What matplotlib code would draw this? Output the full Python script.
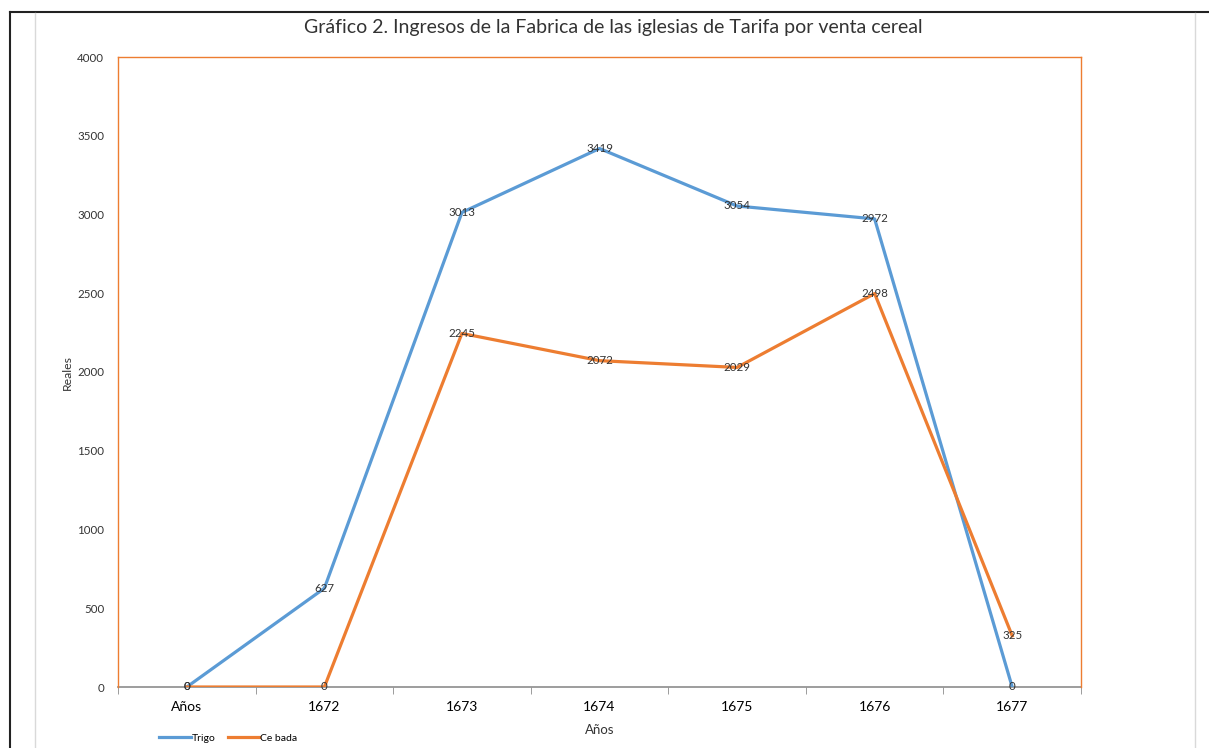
import numpy as np
import matplotlib.pyplot as plt
from matplotlib.lines import Line2D

categorias = ['Años', '1672', '1673', '1674', '1675', '1676', '1677']
trigo = [0, 627, 3013, 3419, 3054, 2972, 0]
cebada = [0, 0, 2245, 2072, 2029, 2498, 325]

plt.rcParams['font.family'] = ['Lato', 'DejaVu Sans']

fig = plt.figure(figsize=(12.09, 7.48), dpi=100)
W, H = 1209, 748
ax = fig.add_axes([118 / W, 1 - 687 / H, (1081 - 118) / W, (687 - 57) / H])

x = np.arange(len(categorias))
azul = '#5B9BD5'
naranja = '#ED7D31'
ax.plot(x, trigo, color=azul, lw=2.3, label='Trigo', solid_joinstyle='round')
ax.plot(x, cebada, color=naranja, lw=2.3, label='Ce bada', solid_joinstyle='round')

for xi, v in zip(x, trigo):
    ax.text(xi, v, str(v), ha='center', va='center', fontsize=8.3, color='#333333')
for xi, v in zip(x, cebada):
    ax.text(xi, v, str(v), ha='center', va='center', fontsize=8.3, color='#333333')

ax.set_xlim(-0.5, len(categorias) - 0.5)
ax.set_ylim(0, 4000)
ax.set_yticks(np.arange(0, 4001, 500))
ax.tick_params(axis='y', length=0, labelsize=8.3, labelcolor='#333333', pad=10)
ax.set_xticks(x)
ax.set_xticklabels(categorias)
ax.set_xticks(np.arange(-0.5, len(categorias), 1), minor=True)
ax.tick_params(axis='x', which='major', length=0, labelsize=10, pad=10)
ax.tick_params(axis='x', which='minor', length=5, color='#8c8c8c', direction='out')

for s in ['left', 'top', 'right']:
    ax.spines[s].set_color(naranja)
    ax.spines[s].set_linewidth(1.0)
ax.spines['bottom'].set_color('#8c8c8c')
ax.spines['bottom'].set_linewidth(1.2)
ax.spines['bottom'].set_zorder(1)

ax.set_ylabel('Reales', fontsize=8.8, color='#333333', labelpad=3)
ax.set_xlabel('Años', fontsize=9.5, color='#333333', labelpad=8)

fig.text(613 / W, 1 - 27 / H, 'Gráfico 2. Ingresos de la Fabrica de las iglesias de Tarifa por venta cereal',
         ha='center', va='center', fontsize=14, color='#333333')

ax.legend(loc='upper left', bbox_to_anchor=(150 / W, 1 - 724 / H), bbox_transform=fig.transFigure,
          ncol=2, frameon=False, fontsize=7.5, handlelength=3, columnspacing=1.2, handletextpad=0.1)

# marcos de la página
fig.add_artist(Line2D([10 / W, 10 / W], [0, 1 - 12 / H], color='#222222', lw=1.5, transform=fig.transFigure))
fig.add_artist(Line2D([10 / W, 1], [1 - 12 / H, 1 - 12 / H], color='#222222', lw=1.5, transform=fig.transFigure))
fig.add_artist(Line2D([35 / W, 35 / W], [0, 1 - 13 / H], color='#d9d9d9', lw=1, transform=fig.transFigure))
fig.add_artist(Line2D([1195 / W, 1195 / W], [0, 1 - 13 / H], color='#d9d9d9', lw=1, transform=fig.transFigure))

fig.savefig('out.png', dpi=100)
